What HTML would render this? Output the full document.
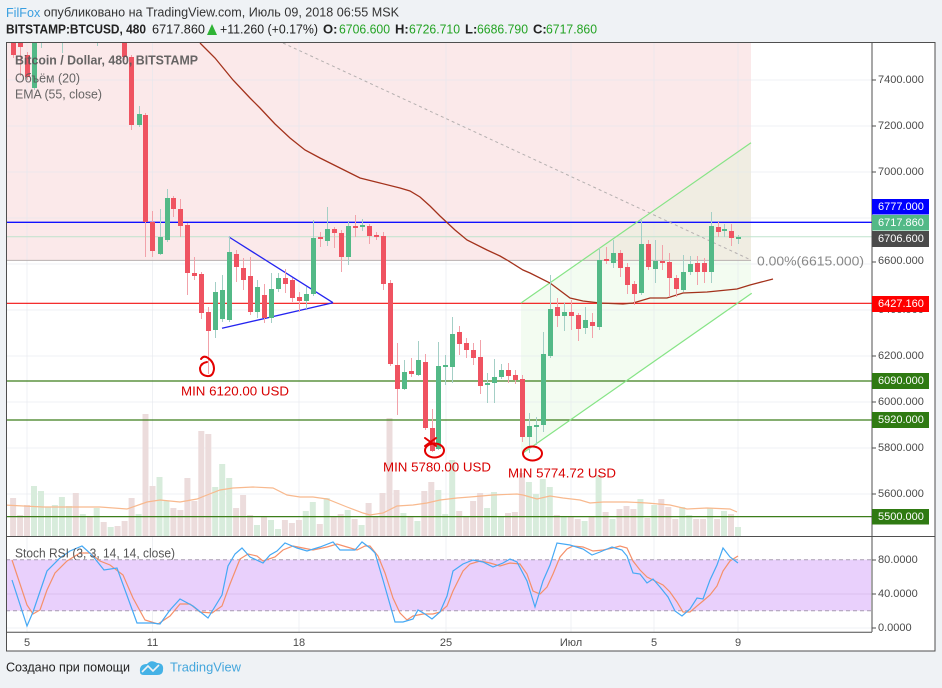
<!DOCTYPE html>
<html><head><meta charset="utf-8"><style>
html,body{margin:0;padding:0;width:942px;height:688px;overflow:hidden;background:#eff2f5;}
svg{display:block;font-family:"Liberation Sans",sans-serif;}
</style></head><body>
<svg width="942" height="688" viewBox="0 0 942 688" xmlns="http://www.w3.org/2000/svg">
<defs>
<clipPath id="cp"><rect x="6.5" y="43" width="865.5" height="493.5"/></clipPath>
<clipPath id="cs"><rect x="6.5" y="537" width="865.5" height="95"/></clipPath>
</defs>
<rect x="0" y="0" width="942" height="688" fill="#eff2f5"/>
<!-- header -->
<text x="6" y="12" dominant-baseline="central" font-size="13" fill="#333" textLength="393" lengthAdjust="spacingAndGlyphs"><tspan fill="#3a9fe0">FilFox</tspan> опубликовано на TradingView.com, Июль 09, 2018 06:55 MSK</text>
<text x="6" y="29" dominant-baseline="central" font-size="13" font-weight="bold" fill="#222" textLength="140" lengthAdjust="spacingAndGlyphs">BITSTAMP:BTCUSD, 480</text>
<text x="152" y="29" dominant-baseline="central" font-size="13" fill="#222" textLength="53" lengthAdjust="spacingAndGlyphs">6717.860</text>
<polygon points="207,35 217,35 212,24" fill="#2eb335"/>
<text x="220" y="29" dominant-baseline="central" font-size="13" fill="#222" textLength="98" lengthAdjust="spacingAndGlyphs">+11.260 (+0.17%)</text>
<text x="323" y="29" dominant-baseline="central" font-size="13" font-weight="bold" fill="#222">O:</text>
<text x="339" y="29" dominant-baseline="central" font-size="13" fill="#23a323" textLength="51" lengthAdjust="spacingAndGlyphs">6706.600</text>
<text x="395" y="29" dominant-baseline="central" font-size="13" font-weight="bold" fill="#222">H:</text>
<text x="409" y="29" dominant-baseline="central" font-size="13" fill="#23a323" textLength="51" lengthAdjust="spacingAndGlyphs">6726.710</text>
<text x="465" y="29" dominant-baseline="central" font-size="13" font-weight="bold" fill="#222">L:</text>
<text x="477" y="29" dominant-baseline="central" font-size="13" fill="#23a323" textLength="51" lengthAdjust="spacingAndGlyphs">6686.790</text>
<text x="533" y="29" dominant-baseline="central" font-size="13" font-weight="bold" fill="#222">C:</text>
<text x="546" y="29" dominant-baseline="central" font-size="13" fill="#23a323" textLength="51" lengthAdjust="spacingAndGlyphs">6717.860</text>

<!-- chart area -->
<rect x="6.5" y="42.5" width="928.5" height="608.5" fill="#ffffff"/>
<g clip-path="url(#cp)">
<rect x="6" y="43" width="745" height="217.4" fill="#fbe9ea"/>
<polygon points="521,303 751,142.7 751,293.3 521,454" fill="#f3fcf1"/>
<polygon points="582.6,260.4 751,142.7 751,260.4" fill="#f0ede2"/>
<!-- grid -->
<g stroke="#e4e7ec" stroke-opacity="0.6" stroke-width="1">
<path d="M27 43V536M152.5 43V536M299 43V536M446 43V536M571 43V536M654 43V536M738 43V536"/>
<path d="M6 80H872M6 126H872M6 172H872M6 218H872M6 264H872M6 310H872M6 356H872M6 402H872M6 448H872M6 494H872"/>
</g>
<!-- volume -->
<g fill="#ecdcdc">
<rect x="10.1" y="498" width="6" height="38"/><rect x="17.1" y="515" width="6" height="21"/><rect x="24" y="505" width="6" height="31"/>
<rect x="72.8" y="493" width="6" height="43"/><rect x="86.8" y="517" width="6" height="19"/><rect x="100.7" y="522" width="6" height="14"/>
<rect x="114.6" y="526" width="6" height="10"/><rect x="121.6" y="521" width="6" height="15"/><rect x="128.6" y="498" width="6" height="38"/>
<rect x="142.5" y="414" width="6" height="122"/><rect x="149.5" y="486" width="6" height="50"/><rect x="170.4" y="508" width="6" height="28"/>
<rect x="177.4" y="510" width="6" height="26"/><rect x="184.4" y="478" width="6" height="58"/><rect x="191.3" y="501" width="6" height="35"/>
<rect x="198.3" y="431" width="6" height="105"/><rect x="205.3" y="434" width="6" height="102"/><rect x="233.1" y="508" width="6" height="28"/>
<rect x="240.1" y="495" width="6" height="41"/><rect x="247.1" y="515" width="6" height="21"/><rect x="261" y="517" width="6" height="19"/>
<rect x="281.9" y="520" width="6" height="16"/><rect x="288.9" y="523" width="6" height="13"/><rect x="295.9" y="520" width="6" height="16"/>
<rect x="316.8" y="524" width="6" height="12"/><rect x="330.7" y="517" width="6" height="19"/><rect x="337.7" y="514" width="6" height="22"/>
<rect x="351.6" y="519" width="6" height="17"/><rect x="365.6" y="503" width="6" height="33"/><rect x="372.5" y="517" width="6" height="19"/>
<rect x="379.5" y="493" width="6" height="43"/><rect x="386.5" y="418" width="6" height="118"/><rect x="393.5" y="490" width="6" height="46"/>
<rect x="407.4" y="517" width="6" height="19"/><rect x="421.3" y="491" width="6" height="45"/><rect x="428.3" y="482" width="6" height="54"/>
<rect x="456.2" y="511" width="6" height="25"/><rect x="463.2" y="517" width="6" height="19"/><rect x="470.1" y="501" width="6" height="35"/>
<rect x="477.1" y="493" width="6" height="43"/><rect x="505" y="513" width="6" height="23"/><rect x="511.9" y="512" width="6" height="24"/>
<rect x="518.9" y="473" width="6" height="63"/><rect x="553.8" y="515" width="6" height="21"/><rect x="567.7" y="517" width="6" height="19"/>
<rect x="574.7" y="519" width="6" height="17"/><rect x="588.6" y="517" width="6" height="19"/><rect x="602.6" y="512" width="6" height="24"/>
<rect x="616.5" y="509" width="6" height="27"/><rect x="623.5" y="506" width="6" height="30"/><rect x="630.4" y="509" width="6" height="27"/>
<rect x="644.4" y="518" width="6" height="18"/><rect x="658.3" y="499" width="6" height="37"/><rect x="665.3" y="507" width="6" height="29"/>
<rect x="672.3" y="519" width="6" height="17"/><rect x="693.2" y="519" width="6" height="17"/><rect x="700.1" y="519" width="6" height="17"/>
<rect x="714.1" y="519" width="6" height="17"/><rect x="728" y="514" width="6" height="22"/>
</g>
<g fill="#d8ecdc">
<rect x="31" y="486" width="6" height="50"/><rect x="38" y="491" width="6" height="45"/><rect x="45" y="507" width="6" height="29"/>
<rect x="51.9" y="505" width="6" height="31"/><rect x="58.9" y="497" width="6" height="39"/><rect x="65.9" y="506" width="6" height="30"/>
<rect x="79.8" y="514" width="6" height="22"/><rect x="93.7" y="508" width="6" height="28"/><rect x="107.7" y="527" width="6" height="9"/>
<rect x="135.6" y="514" width="6" height="22"/><rect x="156.5" y="477" width="6" height="59"/><rect x="163.4" y="501" width="6" height="35"/>
<rect x="212.2" y="487" width="6" height="49"/><rect x="219.2" y="464" width="6" height="72"/><rect x="226.2" y="478" width="6" height="58"/>
<rect x="254" y="525" width="6" height="11"/><rect x="268" y="520" width="6" height="16"/><rect x="275" y="529" width="6" height="7"/>
<rect x="302.8" y="511" width="6" height="25"/><rect x="309.8" y="502" width="6" height="34"/><rect x="323.7" y="498" width="6" height="38"/>
<rect x="344.7" y="510" width="6" height="26"/><rect x="358.6" y="525" width="6" height="11"/><rect x="400.4" y="513" width="6" height="23"/>
<rect x="414.4" y="521" width="6" height="15"/><rect x="435.3" y="490" width="6" height="46"/><rect x="442.2" y="514" width="6" height="22"/>
<rect x="449.2" y="460" width="6" height="76"/><rect x="484.1" y="508" width="6" height="28"/><rect x="491" y="492" width="6" height="44"/>
<rect x="498" y="517" width="6" height="19"/><rect x="525.9" y="482" width="6" height="54"/><rect x="532.9" y="494" width="6" height="42"/>
<rect x="539.8" y="479" width="6" height="57"/><rect x="546.8" y="487" width="6" height="49"/><rect x="560.7" y="517" width="6" height="19"/>
<rect x="581.6" y="521" width="6" height="15"/><rect x="595.6" y="475" width="6" height="61"/><rect x="609.5" y="519" width="6" height="17"/>
<rect x="637.4" y="499" width="6" height="37"/><rect x="651.3" y="505" width="6" height="31"/><rect x="679.2" y="507" width="6" height="29"/>
<rect x="686.2" y="515" width="6" height="21"/><rect x="707.1" y="508" width="6" height="28"/><rect x="721" y="511" width="6" height="25"/>
<rect x="735" y="527" width="6" height="9"/>
</g>
<polyline fill="none" stroke="#f8b98e" stroke-width="1.2" points="4,505 43,507 100,507 127,509 147,502 160,500 180,502 197,499 207,495 220,490 233,488 253,487 273,488 287,495 300,497 313,497 327,499 347,507 363,513 370,515 383,513 397,506 413,505 427,503 440,500 457,498 470,497 493,495 517,494 523,495 537,499 550,496 563,498 580,500 590,503 603,502 627,502 647,503 670,505 687,509 707,508 730,509 737,512"/>
<!-- horizontal lines -->
<line x1="6" y1="260.4" x2="751" y2="260.4" stroke="#b8b0b0" stroke-width="1"/>
<line x1="6" y1="236.8" x2="872" y2="236.8" stroke="#bfe3cd" stroke-width="1"/>
<line x1="6" y1="222.3" x2="872" y2="222.3" stroke="#1010ff" stroke-width="1.3"/>
<line x1="6" y1="303.3" x2="872" y2="303.3" stroke="#f21010" stroke-width="1.2"/>
<g stroke="#3c7d1a" stroke-width="1.2">
<line x1="6" y1="381" x2="872" y2="381"/><line x1="6" y1="420" x2="872" y2="420"/><line x1="6" y1="516.6" x2="872" y2="516.6"/>
</g>
<line x1="283" y1="43" x2="751" y2="260" stroke="#b5b0b0" stroke-width="1" stroke-dasharray="3,3"/>
<!-- channel -->
<line x1="521" y1="303" x2="751" y2="142.7" stroke="#86e486" stroke-width="1.2"/>
<line x1="523" y1="453" x2="751.7" y2="293.3" stroke="#86e486" stroke-width="1.2"/>
<!-- triangle -->
<g stroke="#2424f0" stroke-width="1.3" fill="none">
<line x1="229" y1="237" x2="333" y2="302.7"/><line x1="222" y1="328.3" x2="333" y2="302.7"/>
</g>
<!-- EMA -->
<polyline fill="none" stroke="#a3321c" stroke-width="1.3" points="200,43 215,58 233,80 250,98 260,108 275,124 290,138 305,150 320,158 340,168 360,178 380,183 400,188 410,191 420,197 430,206 440,216 455,230 467,240 487,250 500,256 507,260 523,270 530,273 550,283 570,298 583,301 600,303 623,304 633,303 650,298 667,298 683,293 707,292 737,289 750,285 773,279"/>
<!-- wicks -->
<path stroke="#f2a2aa" stroke-width="1" fill="none" d="M13.5 43V58M20.5 43V76M27.5 52V80M124.5 43V60M131.5 55V130M145.5 113V257M152.5 211V257M173.5 196V217M180.5 199V237M187.5 223V295M194.5 257V280M201.5 272V319M208.5 307V374M236.5 250V282M243.5 258V290M250.5 257V315M264.5 284V323M285.5 269V293M292.5 278V302M299.5 292V312M320.5 232V247M334.5 227V248M341.5 230V272M355.5 215V237M369.5 224V244M376.5 232V240M383.5 232V290M390.5 280V366M397.5 343V415M411.5 358V377M425.5 354V430M432.5 409V452M459.5 326V355M466.5 338V358M473.5 343V365M480.5 340V394M508.5 363V383M515.5 370V384M522.5 375V442M557.5 298V327M571.5 300V330M578.5 313V341M592.5 313V338M606.5 247V264M620.5 250V277M627.5 263V294M634.5 281V305M648.5 240V270M662.5 245V270M669.5 253V297M676.5 275V297M697.5 256V285M704.5 258V283M718.5 222V237M731.5 224V246"/>
<path stroke="#a4cfc6" stroke-width="1" fill="none" d="M34.5 43V90M41.5 43V48M62.5 43V53M97.5 43V46M139.5 106V127M160.5 209V255M167.5 189V242M215.5 282V338M222.5 275V322M229.5 237V322M257.5 280V318M271.5 273V323M278.5 273V292M306.5 287V309M313.5 220V296M327.5 207V246M348.5 222V265M362.5 219V231M404.5 360V390M418.5 341V376M438.5 342V450M445.5 355V385M452.5 317V383M487.5 373V403M494.5 359V403M501.5 364V379M529.5 413V453M536.5 417V445M543.5 332V432M550.5 275V358M564.5 303V331M585.5 307V334M599.5 248V330M613.5 240V268M641.5 219V295M655.5 240V283M683.5 255V292M690.5 256V275M711.5 212V283M724.5 224V237M738.5 235V244"/>
<!-- red bodies -->
<g fill="#ef5361">
<rect x="11" y="43" width="5" height="12"/><rect x="18" y="43" width="5" height="4"/><rect x="25" y="55" width="5" height="22"/>
<rect x="122" y="43" width="5" height="14"/><rect x="129" y="57" width="5" height="68"/><rect x="143" y="115" width="5" height="107"/>
<rect x="150" y="222" width="5" height="29"/><rect x="171" y="198" width="5" height="11"/><rect x="178" y="209" width="5" height="17"/>
<rect x="185" y="225" width="5" height="48"/><rect x="192" y="273" width="5" height="3"/><rect x="199" y="274" width="5" height="39"/>
<rect x="206" y="312" width="5" height="19"/><rect x="234" y="254" width="5" height="13"/><rect x="241" y="268" width="5" height="12"/>
<rect x="248" y="276" width="5" height="36"/><rect x="262" y="295" width="5" height="23"/><rect x="283" y="278" width="5" height="6"/>
<rect x="290" y="280" width="5" height="18"/><rect x="297" y="297" width="5" height="4"/><rect x="318" y="237" width="5" height="2"/>
<rect x="332" y="229" width="5" height="4"/><rect x="339" y="233" width="5" height="24"/><rect x="353" y="226" width="5" height="2"/>
<rect x="367" y="226" width="5" height="10"/><rect x="374" y="235" width="5" height="2"/><rect x="381" y="236" width="5" height="48"/>
<rect x="388" y="283" width="5" height="81"/><rect x="395" y="365" width="5" height="24"/><rect x="409" y="371" width="5" height="3"/>
<rect x="423" y="362" width="5" height="66"/><rect x="430" y="428" width="5" height="23"/><rect x="457" y="332" width="5" height="12"/>
<rect x="464" y="343" width="5" height="7"/><rect x="471" y="350" width="5" height="8"/><rect x="478" y="357" width="5" height="29"/>
<rect x="506" y="370" width="5" height="6"/><rect x="513" y="375" width="5" height="5"/><rect x="520" y="379" width="5" height="58"/>
<rect x="555" y="307" width="5" height="9"/><rect x="569" y="312" width="5" height="4"/><rect x="576" y="315" width="5" height="14"/>
<rect x="590" y="322" width="5" height="4"/><rect x="604" y="259" width="5" height="2"/><rect x="618" y="253" width="5" height="15"/>
<rect x="625" y="267" width="5" height="18"/><rect x="632" y="284" width="5" height="10"/><rect x="646" y="244" width="5" height="23"/>
<rect x="660" y="261" width="5" height="2"/><rect x="667" y="262" width="5" height="16"/><rect x="674" y="278" width="5" height="11"/>
<rect x="695" y="263" width="5" height="9"/><rect x="702" y="263" width="5" height="9"/><rect x="716" y="227" width="5" height="5"/>
<rect x="729" y="231" width="5" height="7"/>
</g>
<!-- green bodies -->
<g fill="#53b987">
<rect x="32" y="43" width="5" height="45"/><rect x="137" y="114" width="5" height="11"/><rect x="158" y="237" width="5" height="17"/>
<rect x="165" y="198" width="5" height="42"/><rect x="213" y="292" width="5" height="38"/><rect x="220" y="290" width="5" height="29"/>
<rect x="227" y="252" width="5" height="68"/><rect x="255" y="287" width="5" height="25"/><rect x="269" y="289" width="5" height="29"/>
<rect x="276" y="278" width="5" height="11"/><rect x="304" y="294" width="5" height="7"/><rect x="311" y="238" width="5" height="56"/>
<rect x="325" y="229" width="5" height="12"/><rect x="346" y="226" width="5" height="31"/><rect x="360" y="225" width="5" height="2"/>
<rect x="402" y="372" width="5" height="17"/><rect x="416" y="360" width="5" height="15"/><rect x="436" y="366" width="5" height="83"/>
<rect x="443" y="365" width="5" height="2"/><rect x="450" y="334" width="5" height="33"/><rect x="485" y="383" width="5" height="2"/>
<rect x="492" y="377" width="5" height="6"/><rect x="499" y="370" width="5" height="7"/><rect x="527" y="426" width="5" height="11"/>
<rect x="534" y="425" width="5" height="2"/><rect x="541" y="354" width="5" height="71"/><rect x="548" y="309" width="5" height="47"/>
<rect x="562" y="312" width="5" height="4"/><rect x="583" y="320" width="5" height="8"/><rect x="597" y="260" width="5" height="67"/>
<rect x="611" y="253" width="5" height="10"/><rect x="639" y="244" width="5" height="49"/><rect x="653" y="261" width="5" height="8"/>
<rect x="681" y="272" width="5" height="18"/><rect x="688" y="264" width="5" height="8"/><rect x="709" y="226" width="5" height="46"/>
<rect x="722" y="229" width="5" height="2"/><rect x="736" y="237" width="5" height="2"/>
</g>
<!-- annotations -->
<g stroke="#e30000" stroke-width="2" fill="none" stroke-linecap="round">
<path d="M201 359 Q204 355 208 358 Q214 362 214 369 Q213 377 207 376 Q200 375 200 368 Q201 363 207 362"/>
<path d="M425 438 L436 446 M436 438 L425 446"/>
<ellipse cx="434.5" cy="450.5" rx="9.5" ry="7"/>
<ellipse cx="532.5" cy="453.5" rx="9.5" ry="7"/>
</g>
<g font-size="13" fill="#d80000">
<text x="181" y="391" dominant-baseline="central" textLength="108" lengthAdjust="spacingAndGlyphs">MIN 6120.00 USD</text>
<text x="383" y="467" dominant-baseline="central" textLength="108" lengthAdjust="spacingAndGlyphs">MIN 5780.00 USD</text>
<text x="508" y="473" dominant-baseline="central" textLength="108" lengthAdjust="spacingAndGlyphs">MIN 5774.72 USD</text>
</g>
<text x="757" y="261" dominant-baseline="central" font-size="13" fill="#888" textLength="107" lengthAdjust="spacingAndGlyphs">0.00%(6615.000)</text>
<!-- legend -->
<g font-size="13" fill="#555" fill-opacity="0.9">
<text x="15" y="60" dominant-baseline="central" font-weight="bold" textLength="183" lengthAdjust="spacingAndGlyphs">Bitcoin / Dollar, 480, BITSTAMP</text>
<text x="15" y="78" dominant-baseline="central" textLength="65" lengthAdjust="spacingAndGlyphs">Объём (20)</text>
<text x="15" y="94" dominant-baseline="central" textLength="87" lengthAdjust="spacingAndGlyphs">EMA (55, close)</text>
</g>
</g>

<!-- Stoch RSI pane -->
<g clip-path="url(#cs)">
<g stroke="#e4e7ec" stroke-opacity="0.6"><path d="M27 537V632M152.5 537V632M299 537V632M446 537V632M571 537V632M654 537V632M738 537V632M6 594H872M6 628H872"/></g>
<rect x="6" y="559.7" width="865" height="51" fill="#e9d0fc"/>
<g stroke="#a89cb2" stroke-dasharray="4,3" stroke-width="1">
<line x1="6" y1="559.7" x2="871" y2="559.7"/><line x1="6" y1="610.7" x2="871" y2="610.7"/>
</g>
<line x1="6" y1="594" x2="871" y2="594" stroke="#dcc0ee" stroke-width="1"/>
<polyline fill="none" stroke="#f5906a" stroke-width="1.2" points="12,560 27,605 33,614 40,610 47,590 55,573 67,561 80,553 90,553 100,561 110,565 123,575 133,598 145,620 158,624 170,616 180,604 190,604 200,612 212,613 222,606 230,584 240,559 248,554 257,556 263,561 275,557 283,550 293,546 303,548 313,550 327,547 337,544 347,547 357,550 365,546 370,546 378,556 385,573 393,598 400,613 407,620 413,616 423,614 433,614 440,612 447,606 453,591 463,571 470,564 480,561 490,563 500,566 510,563 520,564 527,574 533,591 540,594 547,587 553,574 560,557 567,549 573,546 583,547 593,551 603,550 613,548 620,546 627,548 633,561 640,570 647,577 653,580 663,585 670,592 677,602 683,612 690,612 697,606 703,601 710,595 717,586 723,571 730,561 738,556"/>
<polyline fill="none" stroke="#45a9f5" stroke-width="1.2" points="12,580 27,626 33,612 47,571 60,558 70,551 82,546 92,555 104,570 117,568 137,623 152,623 160,624 170,610 180,599 193,606 208,618 222,595 228,566 235,554 242,548 250,557 263,563 270,555 277,551 285,543 297,548 307,551 320,547 333,542 340,550 355,550 362,542 370,548 375,553 383,580 395,622 403,622 413,619 418,610 425,614 432,619 440,612 447,596 453,571 463,564 473,560 483,562 493,567 503,563 510,559 517,562 527,581 535,607 543,581 550,565 557,543 570,545 583,549 592,555 600,552 612,547 622,550 627,556 633,573 640,574 647,583 653,579 660,587 668,597 675,611 682,616 690,609 697,598 703,599 710,580 717,565 723,548 730,557 738,563"/>
<text x="15" y="553" dominant-baseline="central" font-size="13" fill="#555" textLength="160" lengthAdjust="spacingAndGlyphs">Stoch RSI (3, 3, 14, 14, close)</text>
</g>

<!-- frame lines -->
<g stroke="#4f4f4f" stroke-width="1" fill="none">
<rect x="6.5" y="42.5" width="928.5" height="608.5"/>
<line x1="872" y1="42.5" x2="872" y2="632"/>
<line x1="6.5" y1="536.5" x2="935" y2="536.5"/>
<line x1="6.5" y1="632.3" x2="872" y2="632.3"/>
<path d="M872 80h4M872 126h4M872 172h4M872 262h4M872 310h4M872 356h4M872 402h4M872 448h4M872 494h4M872 560h4M872 594h4M872 628h4"/>
</g>

<!-- price axis labels -->
<g font-size="11" fill="#4a4a4a">
<text x="878" y="80" dominant-baseline="central">7400.000</text>
<text x="878" y="126" dominant-baseline="central">7200.000</text>
<text x="878" y="172" dominant-baseline="central">7000.000</text>
<text x="878" y="261" dominant-baseline="central">6600.000</text>
<text x="878" y="310" dominant-baseline="central">6400.000</text>
<text x="878" y="356" dominant-baseline="central">6200.000</text>
<text x="878" y="402" dominant-baseline="central">6000.000</text>
<text x="878" y="448" dominant-baseline="central">5800.000</text>
<text x="878" y="494" dominant-baseline="central">5600.000</text>
<text x="878" y="560" dominant-baseline="central">80.0000</text>
<text x="878" y="594" dominant-baseline="central">40.0000</text>
<text x="878" y="628" dominant-baseline="central">0.0000</text>
</g>
<!-- label boxes -->
<rect x="872" y="199" width="57" height="15.5" fill="#0000ff"/>
<rect x="872" y="215" width="57" height="15.5" fill="#53b987"/>
<rect x="872" y="231" width="57" height="16" fill="#4a4a4a"/>
<rect x="872" y="296" width="57" height="16" fill="#ff0000"/>
<rect x="872" y="373" width="57" height="16" fill="#2f7a12"/>
<rect x="872" y="412" width="57" height="16" fill="#2f7a12"/>
<rect x="872" y="509" width="57" height="15.5" fill="#2f7a12"/>
<g font-size="11" fill="#ffffff">
<text x="878" y="207" dominant-baseline="central">6777.000</text>
<text x="878" y="223" dominant-baseline="central">6717.860</text>
<text x="878" y="239" dominant-baseline="central">6706.600</text>
<text x="878" y="304" dominant-baseline="central">6427.160</text>
<text x="878" y="381" dominant-baseline="central">6090.000</text>
<text x="878" y="420" dominant-baseline="central">5920.000</text>
<text x="878" y="517" dominant-baseline="central">5500.000</text>
</g>
<!-- time axis -->
<g font-size="11" fill="#4a4a4a" text-anchor="middle">
<text x="27" y="643" dominant-baseline="central">5</text>
<text x="152.5" y="643" dominant-baseline="central">11</text>
<text x="299" y="643" dominant-baseline="central">18</text>
<text x="446" y="643" dominant-baseline="central">25</text>
<text x="571" y="643" dominant-baseline="central">Июл</text>
<text x="654" y="643" dominant-baseline="central">5</text>
<text x="738" y="643" dominant-baseline="central">9</text>
</g>
<!-- footer -->
<text x="6" y="667" dominant-baseline="central" font-size="13" fill="#222" textLength="124" lengthAdjust="spacingAndGlyphs">Создано при помощи</text>
<path d="M140 672 Q139 664 147 664 Q151 659 157 663 Q164 663 163 670 Q163 675 157 675 L144 675 Q140 675 140 672 Z" fill="#45b2e6"/>
<path d="M142 672 L148 666 L153 671 L159 665" stroke="#eff2f5" stroke-width="1.6" fill="none"/>
<text x="170" y="667" dominant-baseline="central" font-size="13" fill="#44a6dc" textLength="71" lengthAdjust="spacingAndGlyphs">TradingView</text>
</svg>
</body></html>
